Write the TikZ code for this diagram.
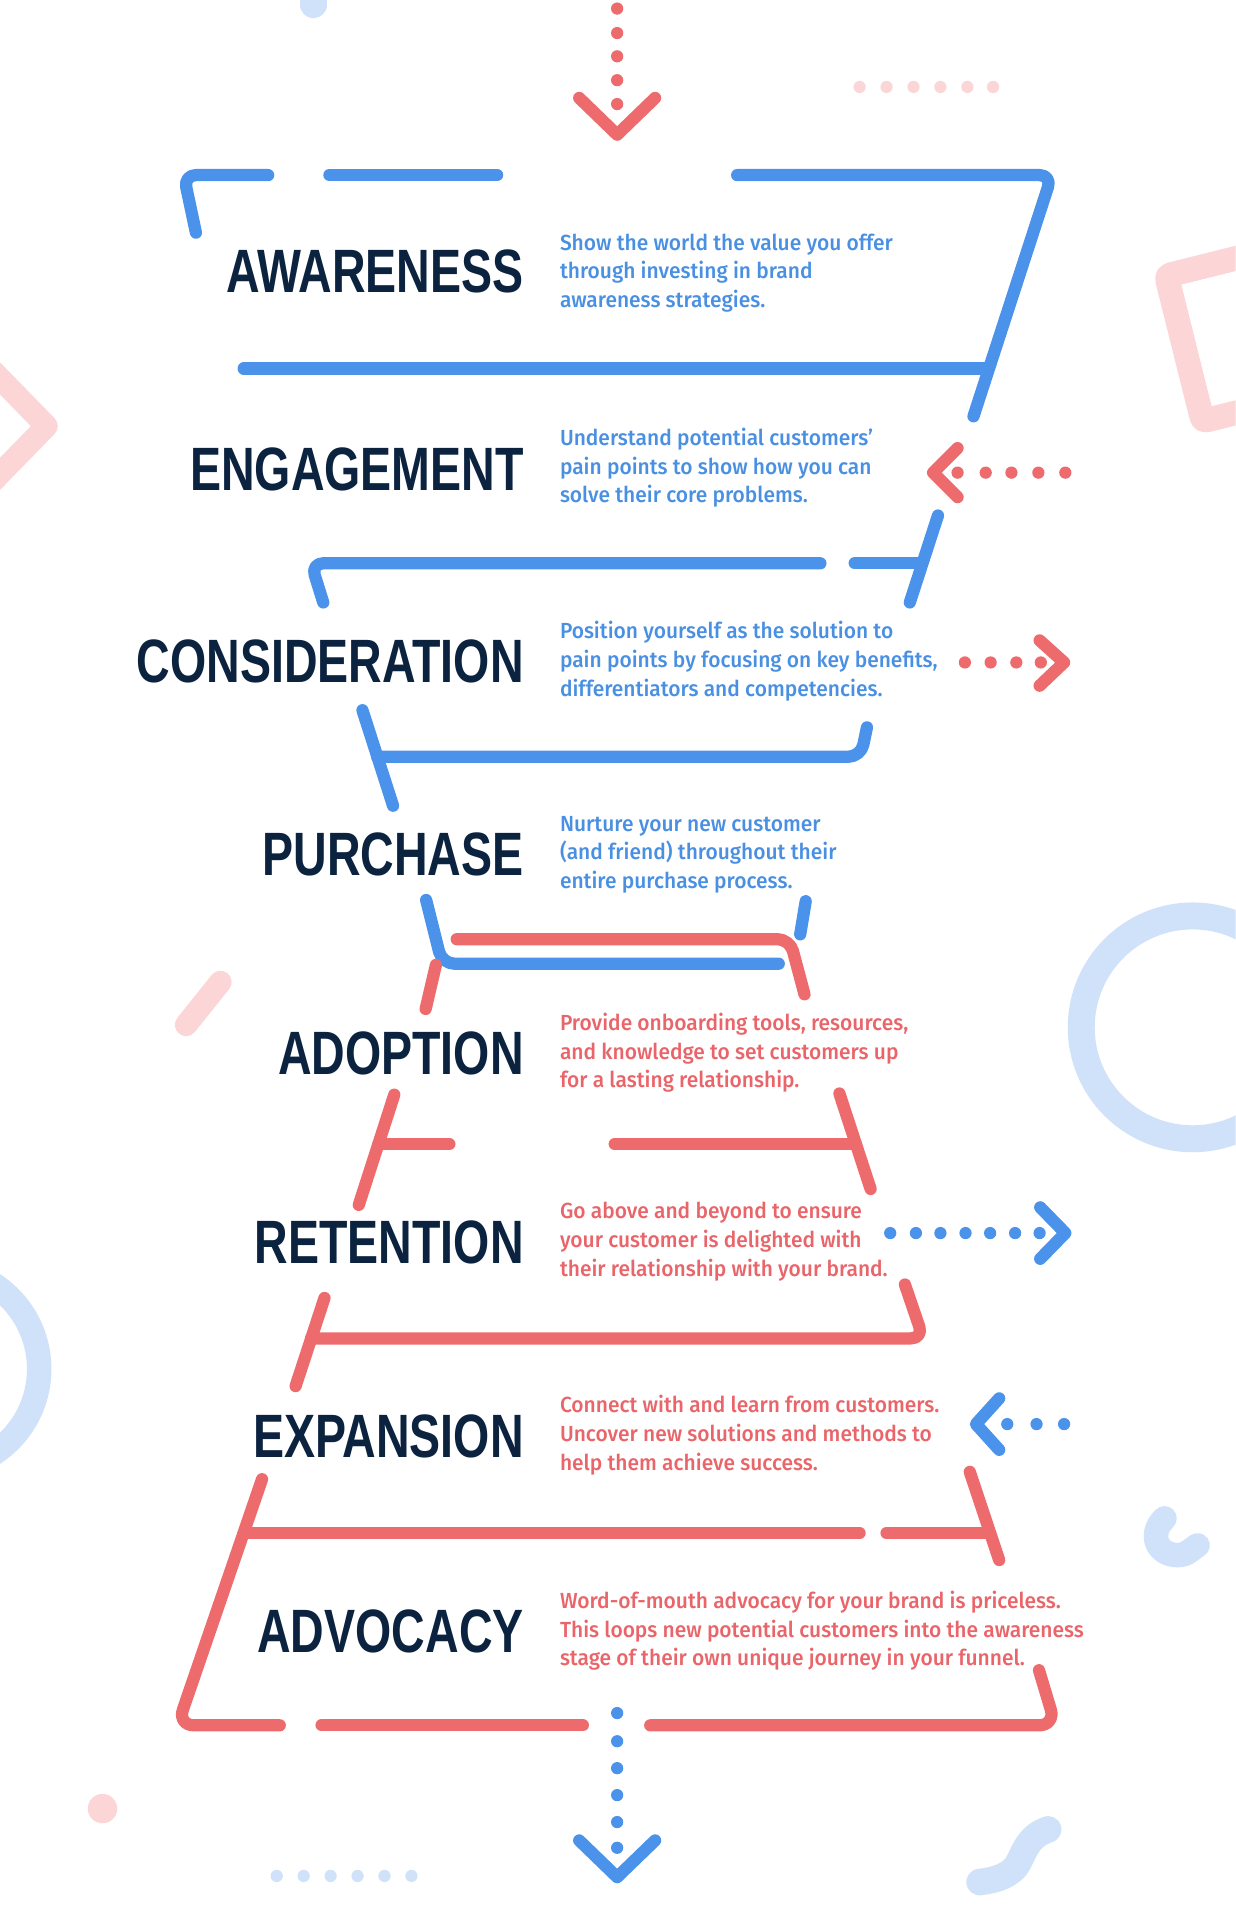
\documentclass[tikz,border=0pt]{standalone}
\usepackage{fontspec}
\newfontfamily\titlefont{Liberation Sans}[FakeStretch=0.76]
\newfontfamily\descfont{Fira Sans Medium}[FakeStretch=0.96]
\definecolor{fblue}{HTML}{4A92EA}
\definecolor{fred}{HTML}{EE6B6D}
\definecolor{navy}{HTML}{0C2340}
\definecolor{lblue}{HTML}{CFE2F9}
\definecolor{lpink}{HTML}{FCD5D7}
\definecolor{tblue}{HTML}{4A90E2}
\definecolor{tred}{HTML}{E9656A}
\begin{document}
\begin{tikzpicture}[x=0.6pt,y=-0.6pt,
  bl/.style={draw=fblue,line width=6pt,line cap=round,line join=round,rounded corners=6pt},
  rl/.style={draw=fred,line width=6pt,line cap=round,line join=round,rounded corners=6pt},
  chev/.style={line width=6pt,line cap=round,line join=round},
  deco/.style={line width=#1,line cap=round,line join=round},
  title/.style={anchor=east,inner sep=0pt,text=navy,font=\titlefont\bfseries\fontsize{30}{30}\selectfont},
  desc/.style={anchor=west,inner sep=0pt,align=left,font=\descfont\fontsize{10.7}{14}\selectfont},
]
\useasboundingbox (0,0) rectangle (1009,1568);
\fill[white] (0,0) rectangle (1009,1568);
\begin{scope}
\clip (0,0) rectangle (1009,1568);
% background decorations
\draw[lblue,deco=13pt] (256,-20) -- (256,4);
\foreach \x in {702,724,746,768,790,811} \fill[lpink] (\x,71) circle[radius=3pt];
\draw[lpink,deco=12pt,rounded corners=2pt] (952.6,225.1) -- (1071.4,195.5) -- (1101,314.3) -- (982.2,343.9) -- cycle;
\draw[lpink,deco=11pt] (-42,266) -- (38,348) -- (-42,430);
\draw[lblue,line width=13.2pt] (974,839) circle[radius=91*0.6pt];
\draw[lpink,deco=11pt] (180,802) -- (152,837);
\draw[lblue,line width=12pt] (-50.5,1118) circle[radius=82.5*0.6pt];
\draw[lblue,deco=12pt] (951,1240) .. controls (938,1252) and (944,1270) .. (962,1270) .. controls (970,1270) and (974,1264) .. (978,1262);
\fill[lpink] (83.7,1477) circle[radius=7.2pt];
\foreach \x in {226,248,270,292,314,336} \fill[lblue] (\x,1532) circle[radius=3pt];
\draw[lblue,deco=13pt] (856,1494) .. controls (838,1500) and (836,1515) .. (830,1524) .. controls (822,1534) and (808,1536) .. (800,1537);
\end{scope}
% top arrow
\foreach \y in {7,27,46,65.5,85} \fill[fred] (504,\y) circle[radius=3pt];
\coordinate (tl) at (473,80); \coordinate (tt) at (504,110); \coordinate (tr) at (535,80);
\draw[fred,chev] (tl) -- (tt) -- (tr);
% blue funnel
\draw[bl] (160,190) -- (150,143) -- (219,143);
\draw[bl] (269,143) -- (406,143);
\draw[bl] (602,143) -- (859,143) -- (795,340);
\draw[bl] (199,301) -- (806,301);
\draw[bl] (766,421) -- (743,492);
\draw[bl] (264,492) -- (254,460) -- (670,460);
\draw[bl] (698,460) -- (753,460);
\draw[bl] (296,580) -- (321,658);
\draw[bl] (308,618) -- (703,618) -- (708,594);
\draw[bl] (348,735) -- (361,787) -- (636,787);
\draw[bl] (658,736) -- (653.5,763);
% red funnel
\draw[rl] (373,767) -- (645,767) -- (657,812);
\draw[rl] (356,788) -- (347.6,824);
\draw[rl] (322,894) -- (293,984);
\draw[rl] (309,934.4) -- (367,934.4);
\draw[rl] (502,934.4) -- (699,934.4);
\draw[rl] (685.5,893) -- (711,971);
\draw[rl] (265,1060) -- (241.4,1132);
\draw[rl] (254,1093) -- (754,1093) -- (739,1049);
\draw[rl,rounded corners=8pt] (214,1208) -- (145,1409) -- (228.5,1409);
\draw[rl] (199,1252) -- (702,1252);
\draw[rl] (724,1252) -- (808,1252);
\draw[rl] (792,1202) -- (816,1274);
\draw[rl] (262.6,1409) -- (476,1409);
\draw[rl,rounded corners=8pt] (531,1409) -- (862,1409) -- (848.5,1364);
% side arrows
\foreach \x in {782,805,826,848,870} \fill[fred] (\x,386) circle[radius=3pt];
\draw[fred,chev] (782,366) -- (762,386) -- (782,406);
\foreach \x in {788,809,830,850} \fill[fred] (\x,541) circle[radius=3pt];
\draw[fred,chev] (849,523) -- (869,541) -- (849,560);
\foreach \x in {727,748,768,788.5,808.6,829,849} \fill[fblue] (\x,1007) circle[radius=3pt];
\draw[fblue,chev] (849.5,986) -- (870,1007) -- (849.5,1028);
\foreach \x in {822.6,846.5,869} \fill[fblue] (\x,1163) circle[radius=3pt];
\draw[fblue,chev] (816,1142) -- (797,1163) -- (816,1184);
% bottom arrow
\foreach \y in {1399,1422,1444,1466,1488,1509} \fill[fblue] (504,\y) circle[radius=3pt];
\coordinate (bl1) at (473,1503); \coordinate (bt) at (504,1533); \coordinate (br) at (535,1503);
\draw[fblue,chev] (bl1) -- (bt) -- (br);
% titles
\node[title] (t1) at (428,222) {AWARENESS};
\node[title] (t2) at (428,383) {ENGAGEMENT};
\node[title] (t3) at (428,540) {CONSIDERATION};
\node[title] (t4) at (428,698) {PURCHASE};
\node[title] (t5) at (428,860) {ADOPTION};
\node[title] (t6) at (428,1015) {RETENTION};
\node[title] (t7) at (428,1173) {EXPANSION};
\node[title] (t8) at (428,1332) {ADVOCACY};
% descriptions
\node[desc,text=tblue] (d1) at (457,223) {Show the world the value you offer\\through investing in brand\\awareness strategies.};
\node[desc,text=tblue] (d2) at (457,382) {Understand potential customers’\\pain points to show how you can\\solve their core problems.};
\node[desc,text=tblue] (d3) at (457,540) {Position yourself as the solution to\\pain points by focusing on key benefits,\\differentiators and competencies.};
\node[desc,text=tblue] (d4) at (457,698) {Nurture your new customer\\(and friend) throughout their\\entire purchase process.};
\node[desc,text=tred] (d5) at (457,860) {Provide onboarding tools, resources,\\and knowledge to set customers up\\for a lasting relationship.};
\node[desc,text=tred] (d6) at (457,1014) {Go above and beyond to ensure\\your customer is delighted with\\their relationship with your brand.};
\node[desc,text=tred] (d7) at (457,1172) {Connect with and learn from customers.\\Uncover new solutions and methods to\\help them achieve success.};
\node[desc,text=tred] (d8) at (457,1332) {Word-of-mouth advocacy for your brand is priceless.\\This loops new potential customers into the awareness\\stage of their own unique journey in your funnel.};
\end{tikzpicture}
\end{document}
